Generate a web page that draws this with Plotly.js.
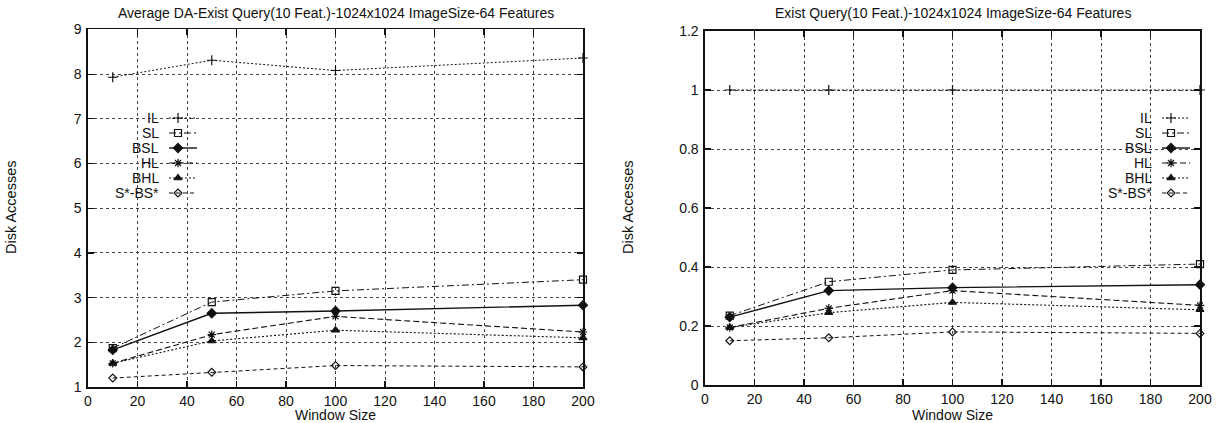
<!DOCTYPE html>
<html>
<head>
<meta charset="utf-8">
<script src="https://cdn.plot.ly/plotly-3.0.1.min.js"></script>
<style>html,body{margin:0;padding:0;background:#fff;}#chart{width:1226px;height:423px;}</style>
</head>
<body>
<div id="chart"></div>
<script>
// ---------- data ----------
const windowSizes = [10, 50, 100, 200];
const seriesNames = ['IL', 'SL', 'BSL', 'HL', 'BHL', 'S*-BS*'];

// Left panel: Average DA - Exist Query
const avgIL   = [7.93, 8.31, 8.08, 8.36];
const avgSL   = [1.87, 2.90, 3.15, 3.40];
const avgBSL  = [1.83, 2.65, 2.70, 2.83];
const avgHL   = [1.53, 2.17, 2.58, 2.23];
const avgBHL  = [1.53, 2.03, 2.27, 2.10];
const avgSBS  = [1.20, 1.33, 1.48, 1.45];

// Right panel: Exist Query
const exIL  = [1.00, 1.00, 1.00, 1.00];
const exSL  = [0.235, 0.35, 0.39, 0.41];
const exBSL = [0.23, 0.32, 0.33, 0.34];
const exHL  = [0.195, 0.26, 0.32, 0.27];
const exBHL = [0.195, 0.245, 0.28, 0.255];
const exSBS = [0.15, 0.16, 0.18, 0.175];

const leftTitle  = 'Average DA-Exist Query(10 Feat.)-1024x1024 ImageSize-64 Features';
const rightTitle = 'Exist Query(10 Feat.)-1024x1024 ImageSize-64 Features';
const xTitle = 'Window Size';
const yTitle = 'Disk Accesses';

// ---------- styles ----------
const W = 1226, H = 423;
const INK = '#111';
const FONT = 'Liberation Sans, Arial, Helvetica, sans-serif';
const styles = [
  {dash: '2px,2px',         symbol: 'cross-thin',   size: 7, lw: 1.0},
  {dash: '7px,3px,2px,3px', symbol: 'square-open',  size: 7, lw: 1.0},
  {dash: 'solid',           symbol: 'diamond',      size: 7, lw: 1.4},
  {dash: '6px,3px',         symbol: 'asterisk',     size: 7, lw: 1.1},
  {dash: '2px,2px',         symbol: 'triangle-up',  size: 7, lw: 1.1},
  {dash: '4px,3px',         symbol: 'diamond-open', size: 6, lw: 1.0}
];

const leftSeries  = [avgIL, avgSL, avgBSL, avgHL, avgBHL, avgSBS];
const rightSeries = [exIL, exSL, exBSL, exHL, exBHL, exSBS];

function mk(vals, i, xa, ya) {
  const s = styles[i];
  return {
    x: windowSizes, y: vals, xaxis: xa, yaxis: ya,
    type: 'scatter', mode: 'lines+markers', name: seriesNames[i], showlegend: false,
    line: {color: INK, width: s.lw, dash: s.dash},
    marker: {symbol: s.symbol, size: s.size, color: INK, line: {color: INK, width: 1.2}},
    hoverinfo: 'x+y+name', cliponaxis: false
  };
}

const traces = [];
leftSeries.forEach((v, i) => traces.push(mk(v, i, 'x', 'y')));
rightSeries.forEach((v, i) => traces.push(mk(v, i, 'x2', 'y2')));

// key (legend) geometry in page pixels, drawn on a full-page overlay axis
const legends = [
  {x0: 169, x1: 197, xm: 178, y0: 118, dy: 15},
  {x0: 1162, x1: 1190, xm: 1171, y0: 118, dy: 15}
];
const annotations = [];
legends.forEach(L => {
  seriesNames.forEach((name, i) => {
    const s = styles[i];
    const yy = L.y0 + i * L.dy;
    traces.push({
      x: [L.x0, L.x1], y: [yy, yy], xaxis: 'x3', yaxis: 'y3', type: 'scatter', mode: 'lines',
      line: {color: INK, width: s.lw, dash: s.dash}, showlegend: false, hoverinfo: 'skip'
    });
    traces.push({
      x: [L.xm], y: [yy], xaxis: 'x3', yaxis: 'y3', type: 'scatter', mode: 'markers',
      marker: {symbol: s.symbol, size: s.size, color: INK, line: {color: INK, width: 1.2}},
      showlegend: false, hoverinfo: 'skip'
    });
    annotations.push({
      xref: 'x3', yref: 'y3', x: L.x0 - 8, y: yy, xanchor: 'right', yanchor: 'middle',
      text: name, showarrow: false, font: {family: FONT, size: 14, color: INK}
    });
  });
});

// titles
const panels = [
  {cx: (88 + 583) / 2, ty: leftTitle, yx: 11},
  {cx: (705 + 1200) / 2, ty: rightTitle, yx: 628}
];
panels.forEach(p => {
  annotations.push({xref: 'x3', yref: 'y3', x: p.cx, y: 13, text: p.ty, showarrow: false,
    xanchor: 'center', yanchor: 'middle', font: {family: FONT, size: 14, color: INK}});
  annotations.push({xref: 'x3', yref: 'y3', x: p.cx, y: 415, text: xTitle, showarrow: false,
    xanchor: 'center', yanchor: 'middle', font: {family: FONT, size: 14, color: INK}});
  annotations.push({xref: 'x3', yref: 'y3', x: p.yx, y: 208, text: yTitle, showarrow: false,
    textangle: -90, xanchor: 'center', yanchor: 'middle', font: {family: FONT, size: 14.5, color: INK}});
});

const axBase = {
  showline: true, linecolor: INK, linewidth: 1.6, mirror: 'allticks',
  ticks: 'inside', ticklen: 6, tickwidth: 1.2, tickcolor: INK,
  showgrid: true, gridcolor: '#444', gridwidth: 1, griddash: 'dot',
  zeroline: false, tickfont: {family: FONT, size: 14, color: INK},
  fixedrange: true
};

const layout = {
  width: W, height: H,
  margin: {l: 0, r: 0, t: 0, b: 0},
  paper_bgcolor: '#fff', plot_bgcolor: 'rgba(0,0,0,0)',
  showlegend: false,
  xaxis: Object.assign({}, axBase, {domain: [88 / W, 583 / W], range: [0, 200], dtick: 20, tick0: 0, anchor: 'y', ticklabelstandoff: 1}),
  yaxis: Object.assign({}, axBase, {domain: [(H - 387) / H, (H - 29.4) / H], range: [1, 9], dtick: 1, anchor: 'x', ticklabelstandoff: 2}),
  xaxis2: Object.assign({}, axBase, {domain: [705 / W, 1200 / W], range: [0, 200], dtick: 20, tick0: 0, anchor: 'y2', ticklabelstandoff: 1}),
  yaxis2: Object.assign({}, axBase, {domain: [(H - 385) / H, (H - 31) / H], range: [0, 1.2], dtick: 0.2, anchor: 'x2', ticklabelstandoff: 2}),
  xaxis3: {domain: [0, 1], range: [0, W], visible: false, anchor: 'y3', fixedrange: true},
  yaxis3: {domain: [0, 1], range: [H, 0], visible: false, anchor: 'x3', fixedrange: true},
  annotations: annotations,
  font: {family: FONT, color: INK}
};

Plotly.newPlot('chart', traces, layout, {displayModeBar: false, staticPlot: true});
</script>
</body>
</html>
